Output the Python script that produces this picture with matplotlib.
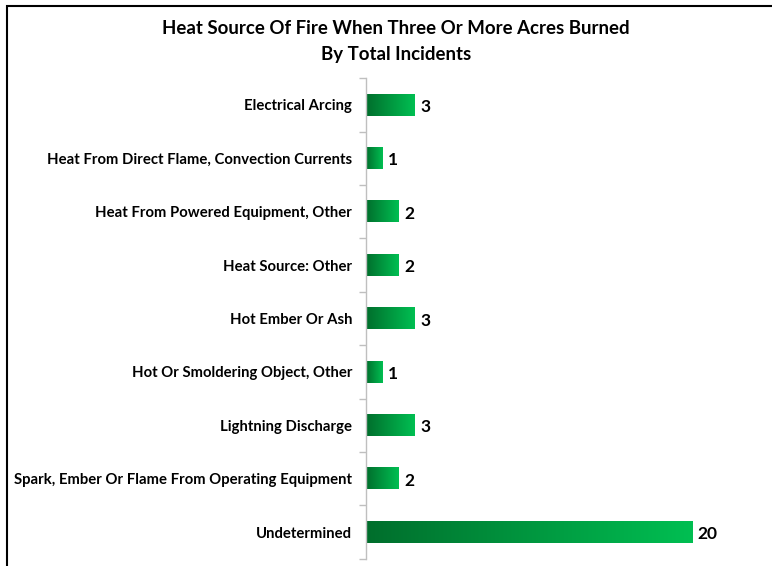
import numpy as np
import matplotlib.pyplot as plt
from matplotlib.colors import LinearSegmentedColormap
from matplotlib.patches import Rectangle

plt.rcParams["font.family"] = ["Lato", "DejaVu Sans"]

TITLE = "Heat Source Of Fire When Three Or More Acres Burned\nBy Total Incidents"
categories = [
    "Electrical Arcing",
    "Heat From Direct Flame, Convection Currents",
    "Heat From Powered Equipment, Other",
    "Heat Source: Other",
    "Hot Ember Or Ash",
    "Hot Or Smoldering Object, Other",
    "Lightning Discharge",
    "Spark, Ember Or Flame From Operating Equipment",
    "Undetermined",
]
incidents = [3, 1, 2, 2, 3, 1, 3, 2, 20]


def main() -> None:
    fig = plt.figure(figsize=(7.72, 5.66), dpi=100)
    ax = fig.add_axes([0.4741, 0.0129, 0.4223, 0.8488])

    # outer chart border (only top/left visible in the reference)
    fig.patches.append(
        Rectangle((7 / 772, -0.05), 1.2, 1 - 6 / 566 + 0.05,
                  transform=fig.transFigure, fill=False,
                  edgecolor="black", linewidth=1.5)
    )

    y = np.arange(len(categories))
    bars = ax.barh(y, incidents, height=0.4, color="none")

    cmap = LinearSegmentedColormap.from_list("grn", ["#006E2C", "#00BF52"])
    grad = np.linspace(0, 1, 256).reshape(1, -1)
    for bar in bars:
        x0, y0 = bar.get_x(), bar.get_y()
        w, h = bar.get_width(), bar.get_height()
        ax.imshow(grad, cmap=cmap, aspect="auto", interpolation="bicubic",
                  extent=(x0, x0 + w, y0 + h, y0), zorder=2)

    for yi, v in zip(y, incidents):
        ax.text(v + 0.35, yi + 0.04, f"{v}", va="center", ha="left",
                fontsize=12.5, fontweight="bold", color="black")

    ax.set_xlim(0, 20)
    ax.set_ylim(len(categories) - 0.5, -0.5)

    ax.set_yticks(y)
    ax.set_yticklabels(categories, fontsize=10.7, fontweight="bold")
    ax.set_yticks(np.arange(len(categories) + 1) - 0.5, minor=True)
    ax.tick_params(axis="y", which="major", length=0, pad=10)
    ax.tick_params(axis="y", which="minor", length=5, color="#BFBFBF",
                   width=1)
    ax.set_xticks([])

    for side in ("top", "right", "bottom"):
        ax.spines[side].set_visible(False)
    ax.spines["left"].set_color("#BFBFBF")
    ax.spines["left"].set_linewidth(1)

    fig.text(396 / 772, 1 - 41.5 / 566, TITLE, ha="center", va="center",
             fontsize=13.4, fontweight="bold", linespacing=1.6)

    fig.savefig("out.png", dpi=100)
    plt.close(fig)


if __name__ == "__main__":
    main()
